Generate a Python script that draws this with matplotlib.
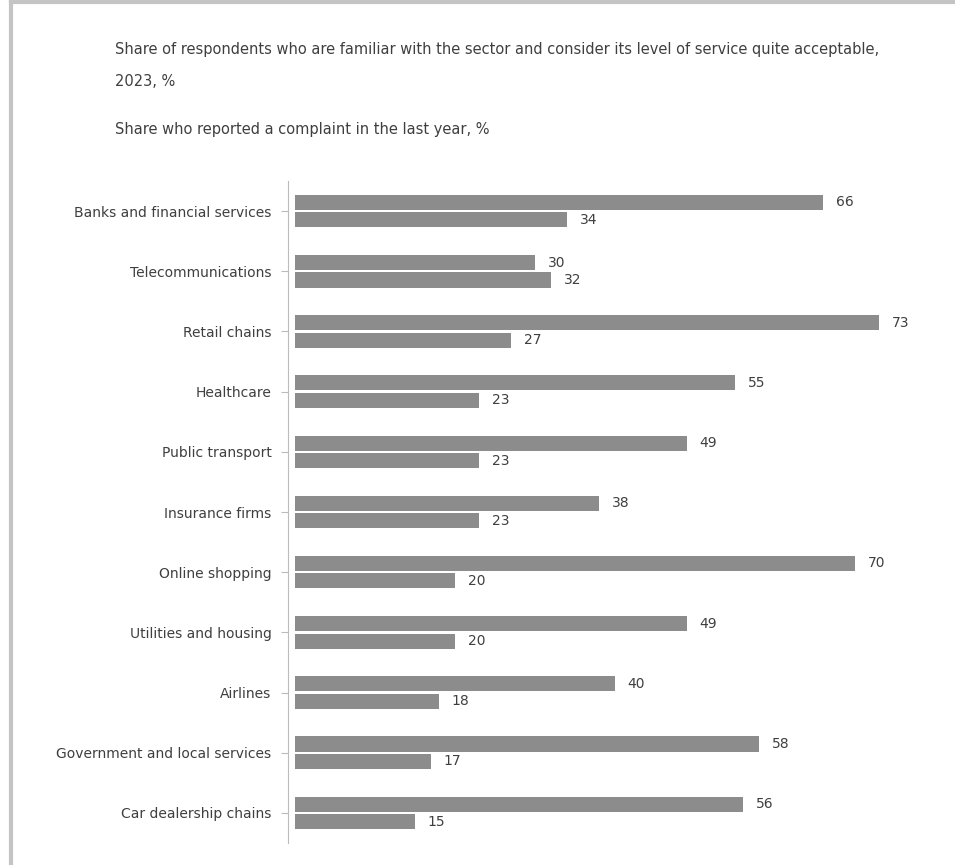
import matplotlib
matplotlib.use("Agg")
import matplotlib.pyplot as plt
from matplotlib.lines import Line2D

categories = [
    "Banks and financial services",
    "Telecommunications",
    "Retail chains",
    "Healthcare",
    "Public transport",
    "Insurance firms",
    "Online shopping",
    "Utilities and housing",
    "Airlines",
    "Government and local services",
    "Car dealership chains",
]
series_a = [66, 30, 73, 55, 49, 38, 70, 49, 40, 58, 56]
series_b = [34, 32, 27, 23, 23, 23, 20, 20, 18, 17, 15]

legend_a = ("Share of respondents who are familiar with the sector and consider its level of service quite acceptable,\n"
            "2023, %")
legend_b = "Share who reported a complaint in the last year, %"

fig = plt.figure(figsize=(9.55, 8.65), dpi=100)
W, H = 955, 865

ax = fig.add_axes([295 / W, 1 - 843 / H, 640 / W, 662 / H])
n = len(categories)
pos = list(range(n))
bh = 0.25
off = 0.145
bar_color = "#8c8c8c"
txt_color = "#3f3f3f"

ax.barh([p - off for p in pos], series_a, height=bh, color=bar_color)
ax.barh([p + off for p in pos], series_b, height=bh, color=bar_color)
for p, a, b in zip(pos, series_a, series_b):
    ax.text(a + 1.6, p - off, str(a), va="center", ha="left", fontsize=10, color=txt_color)
    ax.text(b + 1.6, p + off, str(b), va="center", ha="left", fontsize=10, color=txt_color)

ax.set_xlim(0, 80)
ax.set_ylim(n - 0.5, -0.5)
ax.set_yticks(pos)
ax.set_yticklabels(categories, fontsize=10)
ax.tick_params(axis="y", length=5, color="#bbbbbb", pad=7, labelcolor=txt_color)
ax.set_xticks([])
for s in ["top", "right", "bottom"]:
    ax.spines[s].set_visible(False)
ax.spines["left"].set_color("#bbbbbb")
ax.spines["left"].set_position(("outward", 5))

fig.text(115 / W, 1 - 42 / H, legend_a, fontsize=10.5, color=txt_color, va="top", ha="left", linespacing=2.4)
fig.text(115 / W, 1 - 122 / H, legend_b, fontsize=10.5, color=txt_color, va="top", ha="left")

# frame lines of the screenshot
fig.add_artist(Line2D([11 / W, 11 / W], [0, 1], transform=fig.transFigure, color="#c4c4c4", lw=3))
fig.add_artist(Line2D([11 / W, 1], [1 - 2 / H, 1 - 2 / H], transform=fig.transFigure, color="#c4c4c4", lw=3))

fig.savefig("out.png", dpi=100, facecolor="white")
